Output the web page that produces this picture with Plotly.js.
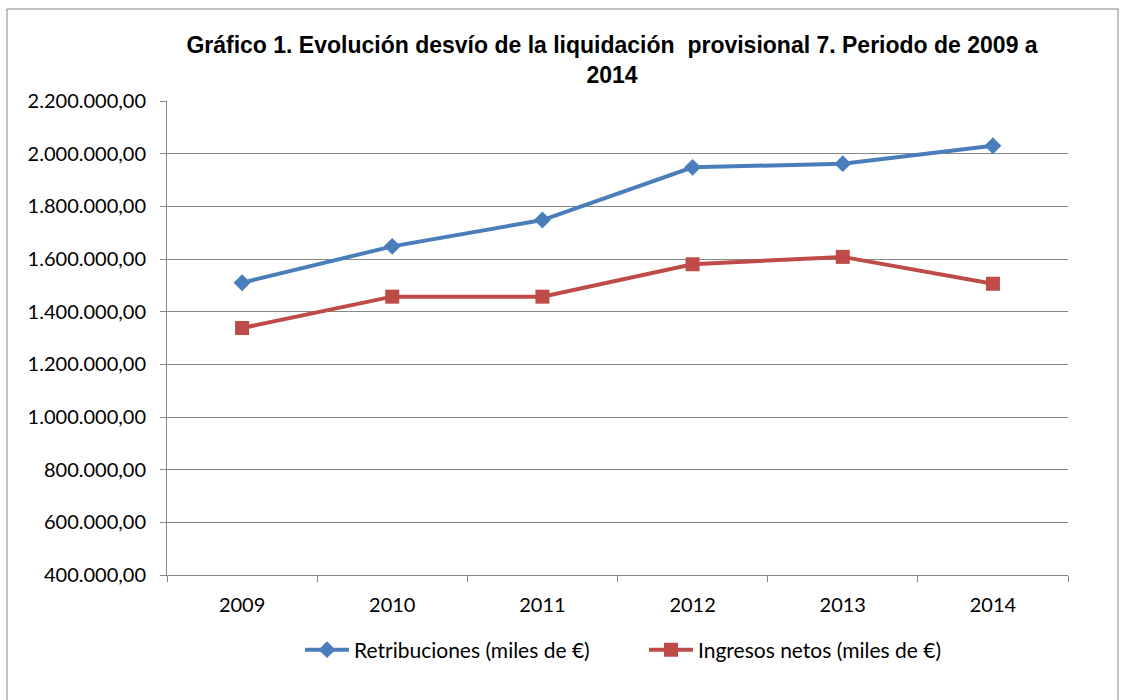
<!DOCTYPE html>
<html>
<head>
<meta charset="utf-8">
<script src="https://cdn.plot.ly/plotly-3.0.1.min.js"></script>
<style>html,body{margin:0;padding:0;background:#fff;}#chart{width:1126px;height:700px;}</style>
</head>
<body>
<div id="chart"></div>
<script>
var years = ['2009', '2010', '2011', '2012', '2013', '2014'];
var retribuciones = [1510000, 1648000, 1748000, 1948000, 1962000, 2030000];
var ingresosNetos = [1338000, 1457000, 1457000, 1580000, 1608000, 1506000];
var yTicks = [400000, 600000, 800000, 1000000, 1200000, 1400000, 1600000, 1800000, 2000000, 2200000];

function fmt(v) {
  var s = String(Math.round(v));
  s = s.replace(/\B(?=(\d{3})+(?!\d))/g, '.');
  return s + ',00';
}

var W = 1126, H = 700, L = 167, R = 1068, T = 101, B = 575;
function px(x) { return (x - L) / (R - L); }
function py(y) { return (B - y) / (B - T); }

var traces = [
  {
    x: years, y: retribuciones, type: 'scatter', mode: 'lines+markers',
    name: 'Retribuciones (miles de €)',
    line: {color: '#4A7EBB', width: 4},
    marker: {symbol: 'diamond', size: 13, color: '#4A7EBB'}
  },
  {
    x: years, y: ingresosNetos, type: 'scatter', mode: 'lines+markers',
    name: 'Ingresos netos (miles de €)',
    line: {color: '#BE4B48', width: 4},
    marker: {symbol: 'square', size: 14, color: '#BE4B48'}
  }
];

var layout = {
  width: W, height: H,
  margin: {l: L, r: W - R, t: T, b: H - B, pad: 0},
  paper_bgcolor: '#fff', plot_bgcolor: '#fff',
  font: {family: 'Lato, "Open Sans", sans-serif', size: 20, color: '#000'},
  title: {
    text: '<b>Gráfico 1. Evolución desvío de la liquidación  provisional 7. Periodo de 2009 a<br>2014</b>',
    font: {family: '"Liberation Sans Narrow", "Liberation Sans", sans-serif', size: 23, color: '#000'},
    xref: 'paper', x: px(612), xanchor: 'center',
    yref: 'container', y: 1 - 53 / H, yanchor: 'top'
  },
  showlegend: true,
  legend: {
    orientation: 'h', x: px(644), xanchor: 'center', y: py(650), yanchor: 'middle',
    font: {size: 21, family: 'Lato, sans-serif'}, itemwidth: 44,
    entrywidth: 285, entrywidthmode: 'pixels'
  },
  xaxis: {
    type: 'category', range: [-0.5, 5.5], tickson: 'boundaries',
    ticks: 'outside', ticklen: 6, tickcolor: '#868686',
    showline: true, linecolor: '#868686', linewidth: 1,
    showgrid: false, zeroline: false, ticklabelstandoff: 12,
    tickfont: {size: 20}, fixedrange: true
  },
  yaxis: {
    range: [400000, 2200000], tickvals: yTicks, ticktext: yTicks.map(fmt),
    ticks: 'outside', ticklen: 6, tickcolor: '#868686',
    showline: true, linecolor: '#868686', linewidth: 1,
    showgrid: true, gridcolor: '#868686', gridwidth: 1, zeroline: false,
    ticklabelstandoff: 10,
    tickfont: {size: 20}, fixedrange: true
  },
  shapes: [
    {type: 'rect', xref: 'paper', yref: 'paper', x0: px(7), x1: px(1118), y0: py(720), y1: py(9),
     line: {color: '#868686', width: 1}, fillcolor: 'rgba(0,0,0,0)', layer: 'below'}
  ]
};

Plotly.newPlot('chart', traces, layout, {displayModeBar: false, staticPlot: true});
</script>
</body>
</html>
